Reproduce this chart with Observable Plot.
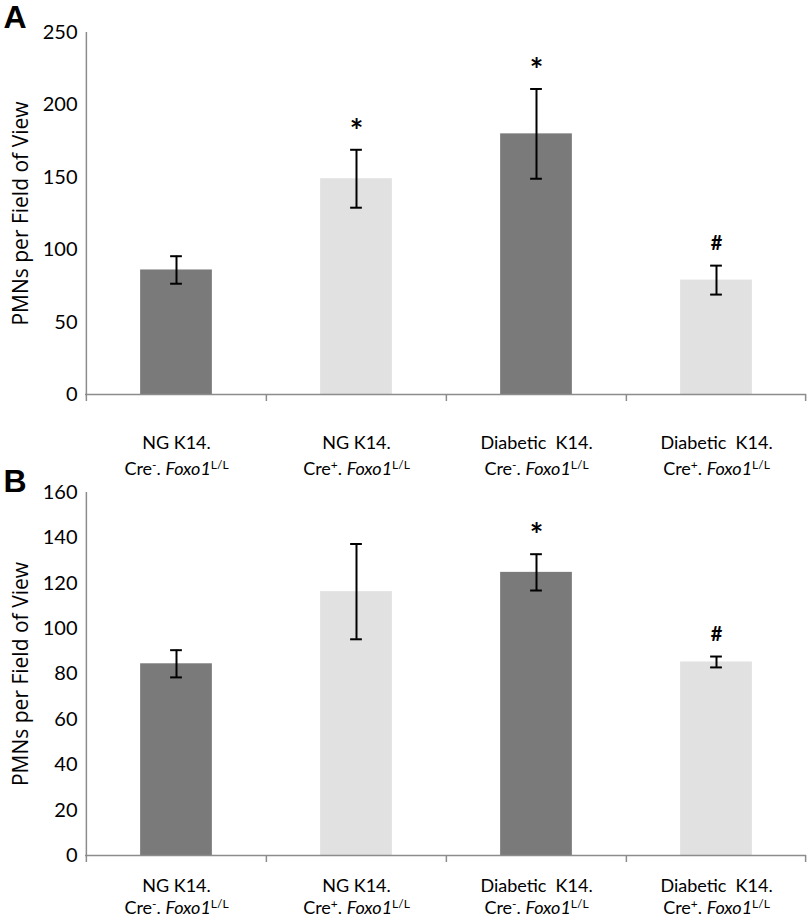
<!DOCTYPE html>
<html>
<head>
<meta charset="utf-8">
<script src="https://cdn.jsdelivr.net/npm/d3@7"></script>
<script src="https://cdn.jsdelivr.net/npm/@observablehq/plot@0.6"></script>
<style>
  html, body { margin: 0; padding: 0; background: #fff; }
  #chart svg { display: block; overflow: visible; }
</style>
</head>
<body>
<div id="chart"></div>
<script>
// ---- data ----
const keys = ["NG K14. Cre-", "NG K14. Cre+", "Diabetic K14. Cre-", "Diabetic K14. Cre+"];
const labelLine1 = ["NG K14.", "NG K14.", "Diabetic  K14.", "Diabetic  K14."];
const creSign = ["-", "+", "-", "+"];
const barColors = ["#7a7a7a", "#e1e1e1", "#7a7a7a", "#e1e1e1"];

const meansA = [86, 149, 180, 79];
const errA = [9.5, 20, 31, 10];
const sigA = ["", "*", "*", "#"];
const yTicksA = [0, 50, 100, 150, 200, 250];

const meansB = [84.5, 116.3, 124.8, 85.3];
const errB = [6, 21, 8, 2.4];
const sigB = ["", "", "*", "#"];
const yTicksB = [0, 20, 40, 60, 80, 100, 120, 140, 160];

const yLabel = "PMNs per Field of View";

// ---- layout ----
const W = 812, ML = 85, MR = 6;
const BW = (W - ML - MR) / keys.length;
const BAR_INSET = (BW - 72) / 2;
const CAP_INSET = (BW - 12) / 2;
const FONT = "Lato, 'Open Sans', sans-serif";
const AXIS = "#8c8c8c";

function panel(letter, means, errs, sigs, yTicks, opts) {
  const data = keys.map((k, i) => ({key: k, mean: means[i], err: errs[i], sig: sigs[i], fill: barColors[i], i}));
  const ymax = yTicks[yTicks.length - 1];
  const svg = Plot.plot({
    width: W,
    height: opts.height,
    marginLeft: ML,
    marginRight: MR,
    marginTop: opts.top,
    marginBottom: opts.bottom,
    style: {fontFamily: FONT, background: "white", color: "black", overflow: "visible"},
    x: {domain: keys, padding: 0, axis: null},
    y: {domain: [0, ymax], axis: null},
    marks: [
      Plot.barY(data, {x: "key", y: "mean", fill: "fill", insetLeft: BAR_INSET, insetRight: BAR_INSET}),
      // error bars
      Plot.ruleX(data, {x: "key", y1: d => d.mean - d.err, y2: d => d.mean + d.err, stroke: "black", strokeWidth: 2}),
      Plot.tickY(data, {x: "key", y: d => d.mean - d.err, stroke: "black", strokeWidth: 2, insetLeft: CAP_INSET, insetRight: CAP_INSET}),
      Plot.tickY(data, {x: "key", y: d => d.mean + d.err, stroke: "black", strokeWidth: 2, insetLeft: CAP_INSET, insetRight: CAP_INSET}),
      // significance marks
      Plot.text(data.filter(d => d.sig === "*"), {x: "key", y: d => d.mean + d.err, text: "sig", dy: -17, fontSize: 32, fontWeight: "bold", fill: "black"}),
      Plot.text(data.filter(d => d.sig === "#"), {x: "key", y: d => d.mean + d.err, text: "sig", dy: -22, fontSize: 20, fontWeight: "bold", fill: "black"}),
      // y axis line
      Plot.ruleX([keys[0]], {x: d => d, dx: -BW / 2, y1: 0, y2: ymax, stroke: AXIS, strokeWidth: 1.5}),
      // y ticks
      Plot.tickY(yTicks, {y: d => d, x: keys[0], dx: -BW / 2 - 3.5, insetLeft: BW / 2 - 3.5, insetRight: BW / 2 - 3.5, stroke: AXIS, strokeWidth: 1.5}),
      Plot.text(yTicks, {y: d => d, frameAnchor: "left", dx: -8, textAnchor: "end", text: d => String(d), fontSize: 20, fill: "black"}),
      // x axis baseline + boundary ticks
      Plot.ruleY([0], {stroke: AXIS, strokeWidth: 1.5}),
      Plot.ruleX(keys, {x: d => d, dx: -BW / 2, y1: 0, y2: 0, insetBottom: -7, stroke: AXIS, strokeWidth: 1.5}),
      Plot.ruleX([keys[keys.length - 1]], {x: d => d, dx: BW / 2 - 1, y1: 0, y2: 0, insetBottom: -7, stroke: AXIS, strokeWidth: 1.5}),
      // x labels
      Plot.text(data, {x: "key", frameAnchor: "bottom", lineAnchor: "middle", dy: opts.line1, text: d => labelLine1[d.i], fontSize: 18, fill: "black"}),
      Plot.text(data, {x: "key", frameAnchor: "bottom", lineAnchor: "middle", dy: opts.line2, text: d => "Cre" + creSign[d.i], fontSize: 18, fill: "black"}),
      // y label
      Plot.text([yLabel], {frameAnchor: "left", textAnchor: "middle", lineAnchor: "middle", dx: -64, rotate: -90, text: d => d, fontSize: 21, fill: "black", fontFamily: "'Open Sans', sans-serif"}),
      // panel letter
      Plot.text([letter], {frameAnchor: "top-left", dx: -82, dy: opts.letterDy, text: d => d, fontSize: 32, fontWeight: "bold", fill: "black", fontFamily: "'Liberation Sans', Arial, sans-serif"})
    ]
  });
  // rich x tick labels: superscript sign, italic gene, superscript genotype
  d3.select(svg).selectAll("text").each(function () {
    const t = this.textContent;
    if (/^Cre[+-]$/.test(t)) {
      const sign = t.slice(3);
      const el = d3.select(this);
      el.text(null);
      el.append("tspan").text("Cre");
      el.append("tspan").attr("font-size", 12).attr("dy", -6).text(sign === "-" ? "-" : "+");
      el.append("tspan").attr("dy", 6).text(". ");
      el.append("tspan").attr("font-style", "italic").text("Foxo1");
      el.append("tspan").attr("font-size", 12).attr("dy", -6).text("L/L");
    }
  });
  return svg;
}

const root = document.getElementById("chart");
root.appendChild(panel("A", meansA, errA, sigA, yTicksA, {height: 460, top: 32, bottom: 66, line1: 49, line2: 75, letterDy: -27}));
root.appendChild(panel("B", meansB, errB, sigB, yTicksB, {height: 460, top: 32, bottom: 65, line1: 31, line2: 53, letterDy: -23}));
</script>
</body>
</html>
